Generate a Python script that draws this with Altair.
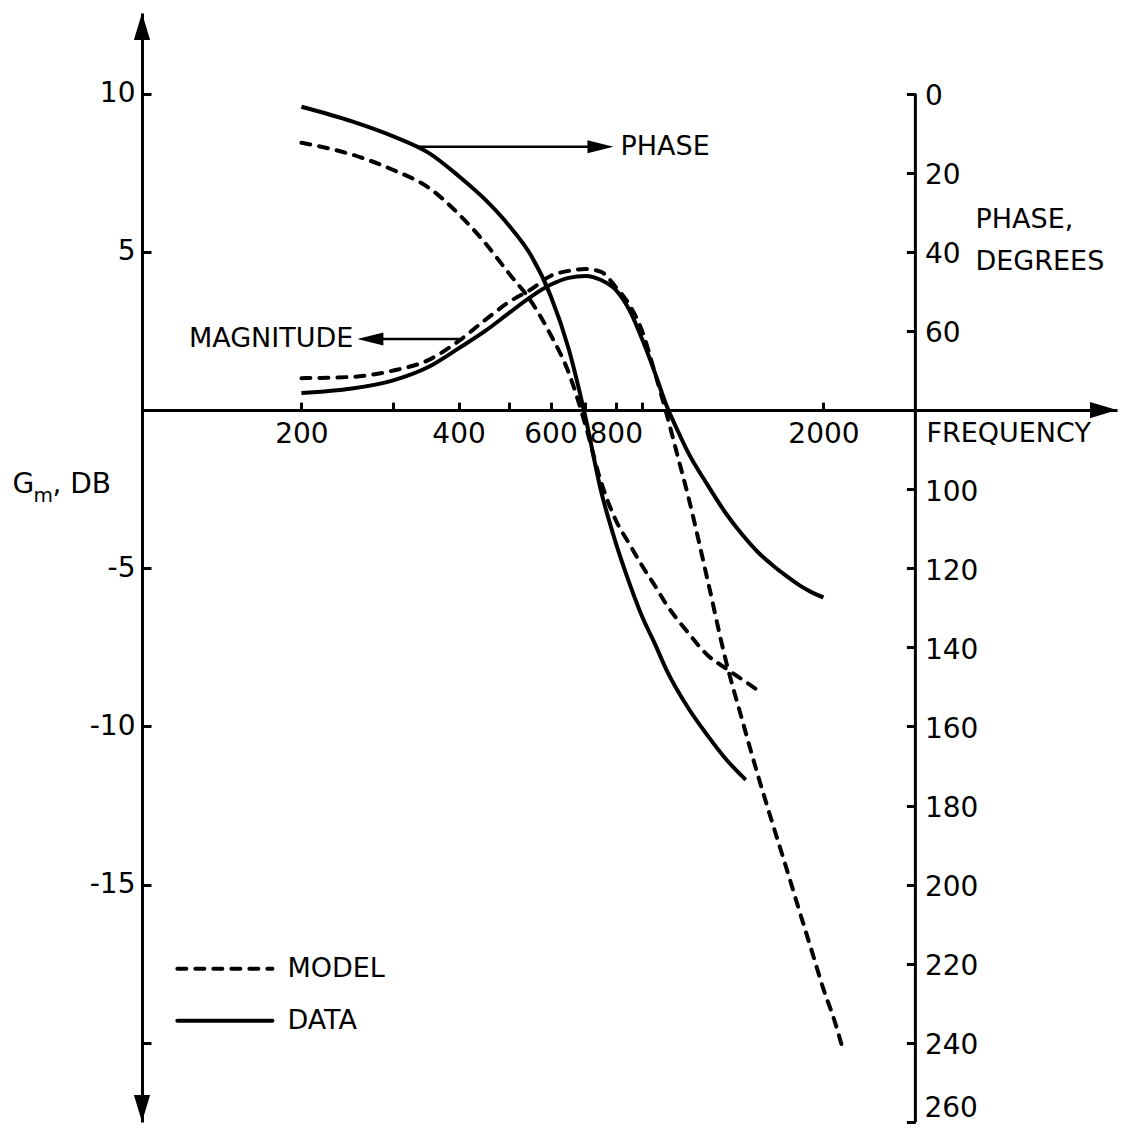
import math
import altair as alt
import pandas as pd

# ---------------- data ----------------
MAG_DATA_F = [200, 250, 300, 350, 400, 450, 500, 550, 600, 650, 700, 750, 800, 850, 900,
              950, 1000, 1050, 1100, 1200, 1300, 1400, 1500, 1600, 1700, 1800, 1900, 2000]
MAG_DATA_DB = [0.54, 0.68, 0.94, 1.36, 1.95, 2.50, 3.07, 3.58, 3.96, 4.18, 4.24, 4.11, 3.80, 3.16, 2.22,
               1.20, 0.16, -0.63, -1.33, -2.37, -3.26, -3.95, -4.50, -4.91, -5.25, -5.54, -5.76, -5.92]

MAG_MODEL_F = [200, 250, 300, 350, 400, 450, 500, 550, 600, 650, 700, 750, 800, 850, 900,
               950, 1000, 1050, 1100, 1200, 1300, 1400, 1500, 1600, 1700, 1800, 1900, 2000, 2100, 2170]
MAG_MODEL_DB = [1.01, 1.05, 1.25, 1.58, 2.18, 2.85, 3.42, 3.81, 4.24, 4.40, 4.46, 4.37, 3.89, 3.32, 2.47,
                1.20, -0.09, -1.42, -2.69, -5.38, -7.91, -9.84, -11.58, -13.1, -14.5, -15.85, -17.1,
                -18.3, -19.3, -20.1]

PH_DATA_F = [200, 250, 300, 350, 400, 450, 500, 550, 600, 650, 700, 750, 800, 850, 900,
             950, 1000, 1100, 1200, 1300, 1420]
PH_DATA_DEG = [3.3, 7.0, 10.8, 14.9, 20.8, 26.8, 33.4, 40.8, 51.0, 64.5, 81.8, 100.5, 113.5, 123.8, 132.4,
               139, 145.6, 155.2, 162.3, 168.2, 173.5]

PH_MODEL_F = [200, 250, 300, 350, 400, 450, 500, 550, 600, 650, 700, 750, 800, 850, 900,
              950, 1000, 1100, 1200, 1300, 1400, 1500]
PH_MODEL_DEG = [12.4, 15.4, 19.3, 23.7, 30.4, 37.8, 45.5, 52.4, 60.9, 70.5, 83.8, 98.2, 107.8, 113.9,
                119.5, 124.3, 129.1, 136.2, 142, 145.3, 148.2, 150.9]

X_TICKS = [200, 300, 400, 500, 600, 700, 800, 900, 2000]
X_LABELS = [200, 400, 600, 800, 2000]
DB_TICKS = [10, 5, -5, -10, -15, -20]
PH_TICKS = [0, 20, 40, 60, 100, 120, 140, 160, 180, 200, 220, 240, 260]
PH_LAST = 260

# ---------------- layout ----------------
W, H = 975, 1109
F_MIN, F_MAX = 99, 7300
DB_MIN, DB_MAX = -22.5, 12.55
PH_TOP, PH_BOTTOM = 80 - 8 * DB_MAX, 80 - 8 * DB_MIN
RIGHT_AXIS_F = 3000
FONT = "DejaVu Sans"


def x_px(f):
    return W * (math.log10(f) - math.log10(F_MIN)) / (math.log10(F_MAX) - math.log10(F_MIN))


def y_px(db):
    return H * (DB_MAX - db) / (DB_MAX - DB_MIN)


xs = alt.Scale(type="log", domain=[F_MIN, F_MAX], nice=False)
ys = alt.Scale(domain=[DB_MIN, DB_MAX], nice=False, zero=False)
ps = alt.Scale(domain=[PH_TOP, PH_BOTTOM], reverse=True, nice=False, zero=False)

x_axis = alt.Axis(
    orient="top", offset=-y_px(0), values=X_TICKS, format="d",
    labelExpr="indexof(" + str(X_LABELS) + ", datum.value) >= 0 ? datum.label : ''",
    tickSize=8, tickWidth=3, domainWidth=3, labelPadding=-40, labelBaseline="alphabetic",
    labelFlush=False, labelOverlap=False, title=None, grid=False,
)
db_axis = alt.Axis(
    orient="right", offset=-W, values=DB_TICKS,
    labelExpr="datum.value == -20 ? '' : '' + datum.value",
    tickSize=9, tickWidth=3, domainWidth=3, labelAlign="right", labelPadding=-16,
    labelBaseline="middle", labelFlush=False, labelOverlap=False, title=None, grid=False,
)
ph_axis = alt.Axis(
    orient="left", offset=-x_px(RIGHT_AXIS_F), values=PH_TICKS,
    labelExpr="datum.value == " + str(PH_LAST) + " ? '' : '' + datum.value", domain=False,
    tickSize=9, tickWidth=3, labelAlign="left", labelPadding=-18, labelOffset=3,
    labelBaseline="middle", labelFlush=False, labelOverlap=False, title=None, grid=False,
)


def X(field="f"):
    return alt.X(field + ":Q", scale=xs, axis=x_axis)


def Y(field="v"):
    return alt.Y(field + ":Q", scale=ys, axis=db_axis)


def P(field="p"):
    return alt.Y(field + ":Q", scale=ps, axis=ph_axis)


LINE = dict(color="black", strokeWidth=4, interpolate="monotone")
DASH = dict(strokeDash=[9, 9], strokeCap="round")

# magnitude group (left scale)
mag_data = alt.Chart(pd.DataFrame({"f": MAG_DATA_F, "v": MAG_DATA_DB})).mark_line(**LINE).encode(
    x=X(), y=Y())
mag_model = alt.Chart(pd.DataFrame({"f": MAG_MODEL_F, "v": MAG_MODEL_DB})).mark_line(**LINE, **DASH).encode(
    x=X(), y=Y())

# legend samples
leg_model = alt.Chart(pd.DataFrame({"f": [115.7, 176], "v": [-17.66, -17.66]})).mark_line(
    color="black", strokeWidth=4, **DASH).encode(x=X(), y=Y())
leg_data = alt.Chart(pd.DataFrame({"f": [115.7, 176], "v": [-19.3, -19.3]})).mark_line(
    color="black", strokeWidth=4, strokeCap="round").encode(x=X(), y=Y())

# annotation arrows
ann_lines = alt.Chart(pd.DataFrame({"f": [334, 268], "f2": [748, 408.6], "v": [8.32, 2.25]})).mark_rule(
    color="black", strokeWidth=2.5).encode(x=X(), x2="f2:Q", y=Y())

UP = "M0,0L0.6,2L-0.6,2Z"
DOWN = "M0,0L0.6,-2L-0.6,-2Z"
RIGHT = "M0,0L-2,-0.6L-2,0.6Z"
RIGHT_S = "M0,0L-2,-0.5L-2,0.5Z"
LEFT_S = "M0,0L2,-0.5L2,0.5Z"
arrows = alt.Chart(pd.DataFrame({
    "f": [F_MIN, F_MIN, F_MAX, 792, 256],
    "v": [DB_MAX, DB_MIN, 0, 8.32, 2.25],
    "shape": [UP, DOWN, RIGHT, RIGHT_S, LEFT_S],
    "s": [729, 729, 729, 676, 676],
})).mark_point(filled=True, color="black", opacity=1, strokeWidth=0).encode(
    x=X(), y=Y(),
    shape=alt.Shape("shape:N", scale=None, legend=None), size=alt.Size("s:Q", scale=None, legend=None))


def texts(rows, align, baseline, size=27, dx=0, dy=0):
    df = pd.DataFrame(rows, columns=["t", "f", "v"])
    return alt.Chart(df).mark_text(font=FONT, fontSize=size, color="black", align=align,
                                   baseline=baseline, dx=dx, dy=dy).encode(
        x=X(), y=Y(), text="t:N")


txt_left_mid = texts([("PHASE", 817, 8.32), ("MODEL", 188, -17.66), ("DATA", 188, -19.3)], "left", "middle")
txt_right_mid = texts([("MAGNITUDE", 251.5, 2.25)], "right", "middle")
txt_left_alpha = texts([("FREQUENCY", 3150, -1.01), ("PHASE,", 3911, 5.76), ("DEGREES", 3911, 4.43)],
                       "left", "alphabetic")
g_main = texts([("G", 55.9, -2.62)], "left", "alphabetic", size=28)
g_sub = texts([("m", 55.9, -2.62)], "left", "alphabetic", size=20, dx=21, dy=9)
g_rest = texts([(", DB", 55.9, -2.62)], "left", "alphabetic", size=28, dx=40)

mag_group = alt.layer(mag_data, mag_model, leg_model, leg_data, ann_lines, arrows,
                      txt_left_mid, txt_right_mid, txt_left_alpha, g_main, g_sub, g_rest)

# phase group (right scale)
ph_data = alt.Chart(pd.DataFrame({"f": PH_DATA_F, "p": PH_DATA_DEG})).mark_line(**LINE).encode(
    x=X(), y=P())
ph_model = alt.Chart(pd.DataFrame({"f": PH_MODEL_F, "p": PH_MODEL_DEG})).mark_line(**LINE, **DASH).encode(
    x=X(), y=P())
ph_rule = alt.Chart(pd.DataFrame({"f": [RIGHT_AXIS_F], "p": [0], "p2": [PH_LAST]})).mark_rule(
    color="black", strokeWidth=3).encode(x=X(), y=P(), y2="p2:Q")
# last phase label kept inside the page
ph_last = alt.Chart(pd.DataFrame({"f": [RIGHT_AXIS_F], "p": [PH_LAST], "t": [str(PH_LAST)]})).mark_text(
    font=FONT, fontSize=28, color="black", align="left", baseline="alphabetic", dx=9, dy=-5).encode(
    x=X(), y=P(), text="t:N")

ph_group = alt.layer(ph_data, ph_model, ph_rule, ph_last)

chart = alt.layer(mag_group, ph_group).resolve_scale(y="independent").properties(
    width=W, height=H, autosize="none",
    padding={"left": 134, "top": 5, "right": 13, "bottom": 3},
    background="white",
).configure_view(stroke=None).configure_axis(
    labelFont=FONT, labelFontSize=28, labelColor="black", tickColor="black", domainColor="black",
)

chart.save("out.html", embed_options={"renderer": "svg", "actions": False})
